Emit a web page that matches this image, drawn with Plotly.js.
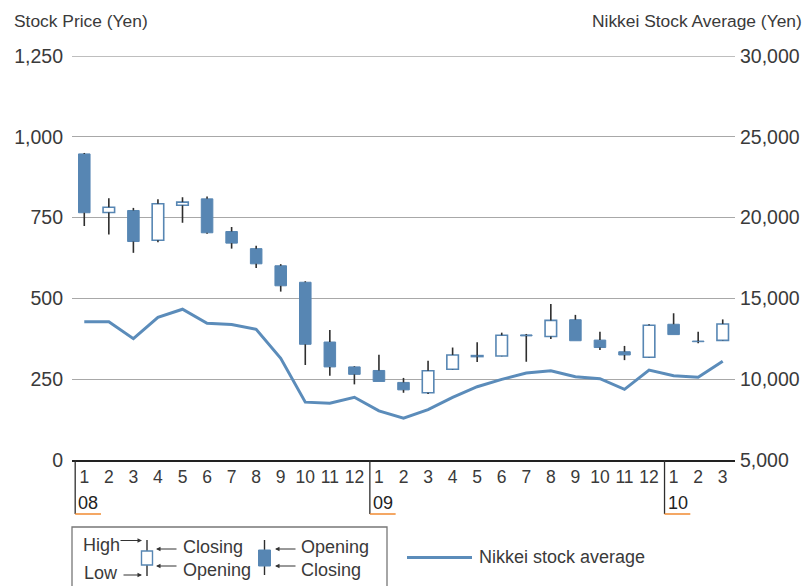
<!DOCTYPE html>
<html>
<head>
<meta charset="utf-8">
<script src="https://cdn.plot.ly/plotly-3.0.1.min.js"></script>
<style>html,body{margin:0;padding:0;background:#fff;}#chart{width:808px;height:586px;}</style>
</head>
<body>
<div id="chart"></div>
<script>
// ---- data ----
var monthLabels = ['1','2','3','4','5','6','7','8','9','10','11','12',
                   '1','2','3','4','5','6','7','8','9','10','11','12',
                   '1','2','3'];
var yearLabels = ['08','09','10'];
var yearStartIdx = [0, 12, 24];
var priceTicks = [0,250,500,750,1000,1250];
var nikkeiTicks = [5000,10000,15000,20000,25000,30000];

var openP  = [947,766,772,680,788,808,707,654,601,550,365,288,
              277,240,208,281,320,322,387,382,434,371,335,318,420,368,370];
var closeP = [765,782,676,793,798,703,671,607,539,358,288,265,
              243,217,276,325,323,386,384,432,369,348,325,417,388,366,421];
var highP  = [950,810,780,807,813,815,721,663,606,553,402,290,
              326,254,307,348,364,394,390,483,449,397,353,420,454,397,435];
var lowP   = [724,698,641,674,734,700,654,594,521,294,261,234,
              243,208,204,280,303,321,304,374,369,340,309,317,388,361,369];
var nikkei = [13560,13560,12510,13830,14330,13460,13380,13090,11290,8580,8510,8880,
              8040,7590,8120,8880,9536,9990,10380,10520,10150,10030,9370,10560,10210,10120,11110];

// ---- build traces ----
var BLUE = '#5786b3';
var DARK = '#2e2e2e';
var GRID = '#a8a8a8';
var idx = monthLabels.map(function(_, i){ return i; });

var wx = [], wy = [];
idx.forEach(function(i){
  var top = Math.max(openP[i], closeP[i]), bot = Math.min(openP[i], closeP[i]);
  if (highP[i] > top) { wx.push(i, i, null); wy.push(highP[i], top, null); }
  if (lowP[i] < bot)  { wx.push(i, i, null); wy.push(bot, lowP[i], null); }
});

var upX=[], upB=[], upH=[], dnX=[], dnB=[], dnH=[];
idx.forEach(function(i){
  var b = Math.min(openP[i], closeP[i]), h = Math.abs(closeP[i]-openP[i]);
  if (closeP[i] >= openP[i]) { upX.push(i); upB.push(b); upH.push(h); }
  else { dnX.push(i); dnB.push(b); dnH.push(h); }
});

var traces = [
  {type:'bar', x:upX, y:upH, base:upB, width:0.47, yaxis:'y',
   marker:{color:'#ffffff', line:{color:BLUE, width:1.6}}, hoverinfo:'skip', showlegend:false},
  {type:'bar', x:dnX, y:dnH, base:dnB, width:0.47, yaxis:'y',
   marker:{color:BLUE, line:{color:BLUE, width:1}}, hoverinfo:'skip', showlegend:false},
  {type:'scatter', mode:'lines', x:wx, y:wy, yaxis:'y', connectgaps:false,
   line:{color:DARK, width:1.6}, hoverinfo:'skip', showlegend:false},
  {type:'scatter', mode:'lines', x:idx, y:nikkei, yaxis:'y2',
   line:{color:'#5b8cba', width:3}, hoverinfo:'skip', showlegend:false}
];

// ---- layout helpers (pixel -> paper) ----
var L=72, R=73, T=56, B=126, W=808, H=586;
var pw = W-L-R, ph = H-T-B;
function px(x){ return (x-L)/pw; }
function py(y){ return (H-B-y)/ph; }
var FONT = 'Liberation Sans, Arial, sans-serif';
var TXT = '#3a3a3a';

var shapes = [], annotations = [];

// top gridline (Plotly drops gridlines lying on the range edge)
shapes.push({type:'line', xref:'paper', yref:'y', x0:0, x1:1,
  y0:priceTicks[priceTicks.length-1], y1:priceTicks[priceTicks.length-1],
  line:{color:GRID, width:1.3}, layer:'below'});

// axis titles
annotations.push({xref:'paper', yref:'paper', x:px(12), y:py(21), xanchor:'left', yanchor:'middle',
  text:'Stock Price (Yen)', showarrow:false, font:{family:FONT, size:17.4, color:TXT}});
annotations.push({xref:'paper', yref:'paper', x:px(804), y:py(21), xanchor:'right', yanchor:'middle',
  text:'Nikkei Stock Average (Yen)', showarrow:false, font:{family:FONT, size:17.4, color:TXT}});

// year separators and labels
yearLabels.forEach(function(lbl, k){
  var xs = yearStartIdx[k] - 0.37;
  shapes.push({type:'line', xref:'x', yref:'paper', x0:xs, x1:xs, y0:py(460), y1:py(514),
    line:{color:DARK, width:1.3}});
  shapes.push({type:'line', xref:'x', yref:'paper', x0:xs, x1:xs+1.05, y0:py(514), y1:py(514),
    line:{color:'#f08a30', width:1.5}});
  annotations.push({xref:'x', yref:'paper', x:xs, y:py(503), xanchor:'left', yanchor:'middle',
    xshift:1, text:lbl, showarrow:false, font:{family:FONT, size:18, color:'#222'}});
});

// legend box
shapes.push({type:'rect', xref:'paper', yref:'paper', x0:px(72), x1:px(387), y0:py(527), y1:py(600),
  line:{color:'#777', width:1.3}, fillcolor:'rgba(0,0,0,0)'});
// hollow legend candle
shapes.push({type:'line', xref:'paper', yref:'paper', x0:px(147), x1:px(147), y0:py(540), y1:py(551), line:{color:DARK, width:1.4}});
shapes.push({type:'line', xref:'paper', yref:'paper', x0:px(147), x1:px(147), y0:py(565), y1:py(576), line:{color:DARK, width:1.4}});
shapes.push({type:'rect', xref:'paper', yref:'paper', x0:px(141.5), x1:px(152.5), y0:py(551), y1:py(565),
  line:{color:BLUE, width:1.4}, fillcolor:'#fff'});
// filled legend candle
shapes.push({type:'line', xref:'paper', yref:'paper', x0:px(264.5), x1:px(264.5), y0:py(540), y1:py(575), line:{color:DARK, width:1.4}});
shapes.push({type:'rect', xref:'paper', yref:'paper', x0:px(258.5), x1:px(270.5), y0:py(550), y1:py(566),
  line:{color:BLUE, width:1}, fillcolor:BLUE});
// nikkei legend line
shapes.push({type:'line', xref:'paper', yref:'paper', x0:px(407), x1:px(472), y0:py(557.5), y1:py(557.5),
  line:{color:'#5b8cba', width:3}});

function txt(x, y, s){
  annotations.push({xref:'paper', yref:'paper', x:px(x), y:py(y), xanchor:'left', yanchor:'middle',
    text:s, showarrow:false, font:{family:FONT, size:18, color:TXT}});
}
function arrow(hx, hy, dx){
  annotations.push({xref:'paper', yref:'paper', x:px(hx), y:py(hy), ax:dx, ay:0, text:'',
    showarrow:true, arrowhead:2, arrowsize:0.9, arrowwidth:1, arrowcolor:'#333', standoff:0});
}
txt(81, 545, 'High'); txt(82, 573, 'Low');
txt(181, 547, 'Closing'); txt(181, 570, 'Opening');
txt(299, 547, 'Opening'); txt(299, 570, 'Closing');
txt(477, 557, 'Nikkei stock average');
arrow(142, 540.5, -23); arrow(142, 575, -20);
arrow(156, 549, 22); arrow(156, 566, 22);
arrow(275, 549, 22); arrow(275, 566, 22);

var layout = {
  width:W, height:H, margin:{l:L, r:R, t:T, b:B, pad:0},
  paper_bgcolor:'#fff', plot_bgcolor:'#fff', showlegend:false, barmode:'overlay',
  font:{family:FONT, color:TXT},
  xaxis:{range:[-0.5, 26.5], tickmode:'array', tickvals:idx, ticktext:monthLabels,
    showgrid:false, zeroline:false, showline:true, linecolor:'#222', linewidth:1.5,
    ticks:'', tickfont:{family:FONT, size:17.5, color:TXT}, fixedrange:true},
  yaxis:{range:[0,1250], tickmode:'array', tickvals:priceTicks, tickformat:',d',
    showgrid:true, gridcolor:GRID, gridwidth:1.3,
    zeroline:false, showline:false, ticks:'', ticklabelstandoff:8,
    tickfont:{family:FONT, size:19.5, color:TXT}, fixedrange:true},
  yaxis2:{range:[5000,30000], tickmode:'array', tickvals:nikkeiTicks, tickformat:',d',
    overlaying:'y', side:'right',
    showgrid:false, zeroline:false, showline:false, ticks:'', ticklabelstandoff:4,
    tickfont:{family:FONT, size:19.5, color:TXT}, fixedrange:true},
  shapes:shapes, annotations:annotations
};

Plotly.newPlot('chart', traces, layout, {staticPlot:true, displayModeBar:false});
</script>
</body>
</html>
